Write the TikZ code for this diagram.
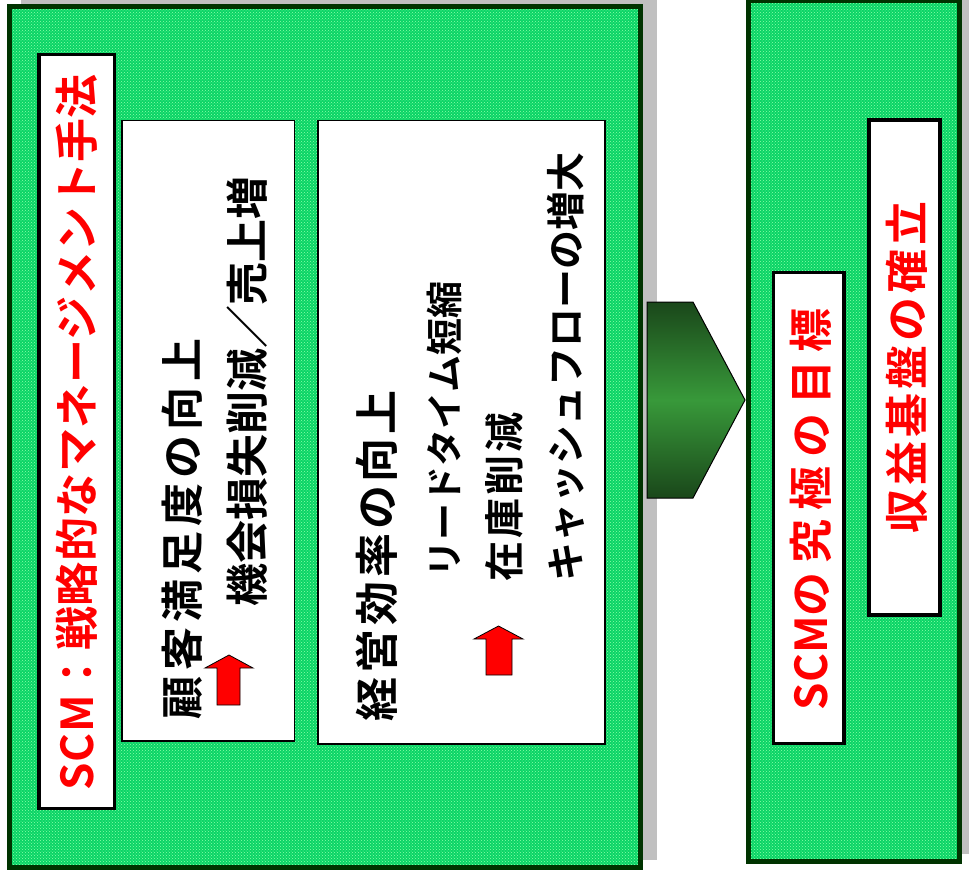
\documentclass[tikz,border=0pt]{standalone}
\usepackage{fontspec}
\setmainfont{Noto Sans CJK JP}[BoldFont={* Bold}]
\usetikzlibrary{patterns}
\definecolor{gfill}{HTML}{0AD466}
\definecolor{gdot}{HTML}{8CFFA8}
\definecolor{gborder}{HTML}{003300}
\definecolor{shadowgray}{HTML}{C0C0C0}
\definecolor{arrdark}{HTML}{1A471A}
\definecolor{arrlight}{HTML}{38993A}
\definecolor{tred}{HTML}{FF0000}
\tikzset{
  shadowbox/.style={fill=shadowgray, draw=none, inner sep=0pt, outer sep=0pt},
  panel/.style={preaction={fill=gfill}, pattern=crosshatch dots, pattern color=gdot,
    draw=gborder, line width=5pt, inner sep=0pt, outer sep=0pt},
  titlebox/.style={fill=white, draw=black, line width=3.5pt, inner sep=0pt, outer sep=0pt},
  itembox/.style={fill=white, draw=black, line width=1.5pt, inner sep=0pt, outer sep=0pt},
  lbl/.style={rotate=90, anchor=west, inner sep=0pt, outer sep=0pt},
  redarrow/.style={fill=tred, draw=black, line width=0.8pt, line join=miter},
  bigarrow/.style={top color=arrdark, bottom color=arrdark, middle color=arrlight, draw=black, line width=1pt}
}
\newcommand{\jfs}[2]{\fontsize{#1}{#1}\selectfont\bfseries\addfontfeatures{LetterSpace=#2}}
\newcommand{\nols}[1]{{\addfontfeatures{LetterSpace=0}#1}}
\begin{document}
\begin{tikzpicture}[x=1pt,y=-1pt]
\useasboundingbox (0,0) rectangle (969,881);
\fill[white] (0,0) rectangle (969,881);
% shadows
\node[shadowbox, minimum width=636pt, minimum height=866.5pt] (lshadow) at (339,426.75) {};
\node[shadowbox, minimum width=216.5pt, minimum height=866pt] (rshadow) at (867.75,421) {};
% panels
\node[panel, minimum width=631pt, minimum height=861.5pt] (lpanel) at (325,436.75) {};
\node[panel, minimum width=211.5pt, minimum height=861pt] (rpanel) at (853.75,431) {};
% white boxes
\node[titlebox, minimum width=75.5pt, minimum height=754pt] (tbox) at (76.75,431.5) {};
\node[itembox, minimum width=172.5pt, minimum height=620.5pt] (box1) at (208.25,430.75) {};
\node[itembox, minimum width=287pt, minimum height=623.5pt] (box2) at (461.5,432.25) {};
\node[titlebox, minimum width=70.5pt, minimum height=471pt] (gbox) at (808.75,508) {};
\node[titlebox, minimum width=71pt, minimum height=495pt] (pbox) at (904.5,367.5) {};
% texts
\node[lbl, text=tred, font=\jfs{44}{1}] (t0) at (77,790) {SCM：戦略的なマネージメント手法};
\node[lbl, font=\jfs{43}{12}] (t1) at (182,719) {顧客満足度の向上};
\node[lbl, font=\jfs{43}{0}] (t2) at (247,606) {機会損失削減／売上増};
\node[lbl, font=\jfs{44}{8.6}] (t3) at (377,721) {経営効率の向上};
\node[lbl, font=\jfs{37}{0}] (t4) at (444,577) {リードタイム短縮};
\node[lbl, font=\jfs{40}{7.5}] (t5) at (504,581) {在庫削減};
\node[lbl, font=\jfs{39}{0}] (t6) at (566,581) {キャッシュフローの増大};
\node[lbl, text=tred, font=\jfs{44}{20}] (t7) at (811,710) {\nols{SCM}の究極の目標};
\node[lbl, text=tred, font=\jfs{44}{9}] (t8) at (907,533) {収益基盤の確立};
% red arrows
\draw[redarrow] (229,655) -- (253,668) -- (240,668) -- (240,705) -- (217,705) -- (217,668) -- (205,668) -- cycle;
\draw[redarrow] (498.5,626) -- (523,639) -- (512,639) -- (512,675) -- (486,675) -- (486,639) -- (474,639) -- cycle;
% big arrow
\draw[bigarrow] (647,302) -- (693,302) -- (745,400) -- (693,498) -- (647,498) -- cycle;
\end{tikzpicture}
\end{document}
